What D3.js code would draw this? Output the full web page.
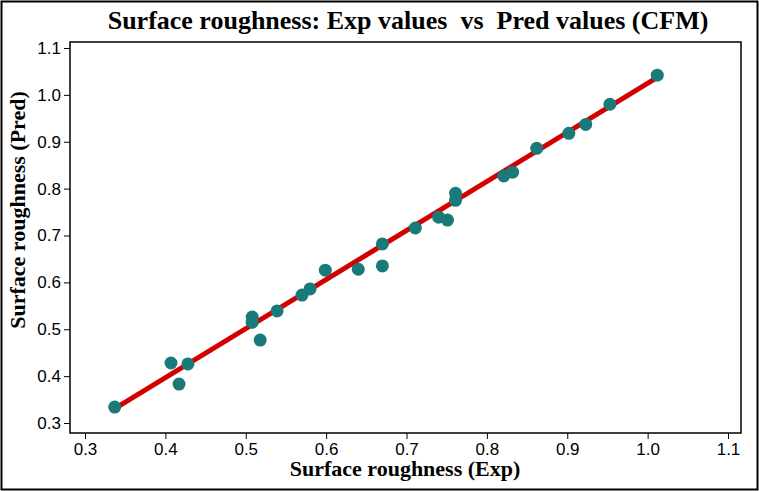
<!DOCTYPE html><html><head><meta charset="utf-8">
<script src="https://d3js.org/d3.v7.min.js"></script>
<style>body{margin:0;background:#fff}</style></head><body>
<svg id="c" width="759" height="491"></svg>
<script>
const expVals=[0.337,0.407,0.417,0.428,0.508,0.508,0.518,0.539,0.570,0.580,0.599,0.640,0.670,0.670,0.711,0.740,0.751,0.761,0.761,0.821,0.832,0.862,0.902,0.923,0.953,1.012];
const predVals=[0.334,0.428,0.383,0.426,0.526,0.515,0.477,0.539,0.573,0.586,0.626,0.628,0.682,0.635,0.716,0.739,0.733,0.775,0.790,0.827,0.835,0.886,0.918,0.937,0.980,1.042];
const fitLine=[[0.34,0.334],[1.01,1.035]];
const xTicks=[0.3,0.4,0.5,0.6,0.7,0.8,0.9,1.0,1.1];
const yTicks=[0.3,0.4,0.5,0.6,0.7,0.8,0.9,1.0,1.1];
const svg=d3.select("#c");
svg.append("rect").attr("x",1.5).attr("y",1.5).attr("width",756).attr("height",488).attr("fill","none").attr("stroke","#000").attr("stroke-width",2);
const L=70,R=741,T=42,B=433;
const x=d3.scaleLinear().domain([0.3,1.1]).range([85,728]);
const y=d3.scaleLinear().domain([0.3,1.1]).range([423,48]);
svg.append("rect").attr("x",L).attr("y",T).attr("width",R-L).attr("height",B-T).attr("fill","none").attr("stroke","#000").attr("stroke-width",1.5);
const gx=svg.append("g").attr("transform",`translate(0,${B})`).call(d3.axisBottom(x).tickValues(xTicks).tickFormat(d3.format(".1f")).tickSize(6).tickSizeOuter(0));
const gy=svg.append("g").attr("transform",`translate(${L},0)`).call(d3.axisLeft(y).tickValues(yTicks).tickFormat(d3.format(".1f")).tickSize(6).tickSizeOuter(0));
[gx,gy].forEach(g=>{g.select(".domain").remove();g.selectAll("text").attr("font-family","Arial, Liberation Sans, sans-serif").attr("font-size",17).attr("fill","#000");});
gx.selectAll("text").attr("dy","0.75em");
svg.append("line").attr("x1",x(fitLine[0][0])).attr("y1",y(fitLine[0][1])).attr("x2",x(fitLine[1][0])).attr("y2",y(fitLine[1][1])).attr("stroke","#d40000").attr("stroke-width",5);
svg.selectAll("circle.p").data(expVals).enter().append("circle").attr("cx",d=>x(d)).attr("cy",(d,i)=>y(predVals[i])).attr("r",6.5).attr("fill","#1a7a7a");
svg.append("text").attr("x",408).attr("y",29).attr("text-anchor","middle").attr("font-family","Liberation Serif, Times New Roman, serif").attr("font-weight","bold").attr("font-size",26).style("white-space","pre").text("Surface roughness: Exp values  vs  Pred values (CFM)");
svg.append("text").attr("x",405).attr("y",476).attr("text-anchor","middle").attr("font-family","Liberation Serif, serif").attr("font-weight","bold").attr("font-size",22).text("Surface roughness (Exp)");
svg.append("text").attr("transform","translate(25,210) rotate(-90)").attr("text-anchor","middle").attr("font-family","Liberation Serif, serif").attr("font-weight","bold").attr("font-size",22).text("Surface roughness (Pred)");
</script></body></html>
